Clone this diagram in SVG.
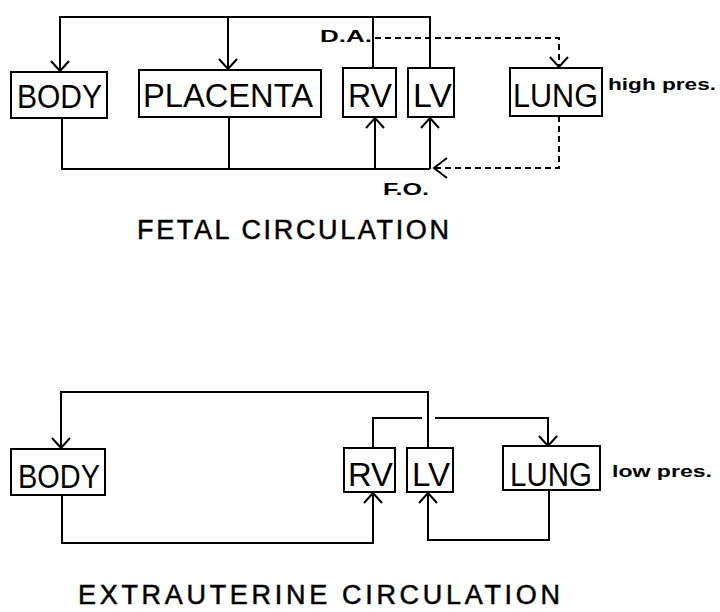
<svg xmlns="http://www.w3.org/2000/svg" width="720" height="612" viewBox="0 0 720 612">
<style>
.box{fill:#fff;stroke:#000;stroke-width:2}
.lbl{font-family:"Liberation Sans",Arial,sans-serif;font-size:34px;fill:#000}
.note{font-family:"Liberation Sans",Arial,sans-serif;font-weight:bold;font-size:17px;fill:#000}
.title{font-family:"Liberation Sans",Arial,sans-serif;font-size:27px;fill:#000;stroke:#000;stroke-width:0.5}
.ln{fill:none;stroke:#000;stroke-width:2}
.dash{fill:none;stroke:#000;stroke-width:2;stroke-dasharray:6 4}
</style>
<defs>
<marker id="ah" viewBox="-12 -11 14 22" refX="0" refY="0" markerWidth="14" markerHeight="22" markerUnits="userSpaceOnUse" orient="auto">
<path d="M-10,-9 L0,0 L-10,9" fill="none" stroke="#000" stroke-width="2"/>
</marker>
<marker id="ahL" viewBox="-15 -12 17 24" refX="0" refY="0" markerWidth="17" markerHeight="24" markerUnits="userSpaceOnUse" orient="auto">
<path d="M-13,-10 L0,0 L-13,10" fill="none" stroke="#000" stroke-width="2"/>
</marker>
</defs>

<g id="connectors">
<path class="ln" d="M430,68 V17 H60 V71" marker-end="url(#ah)"/>
<path class="ln" d="M228,17 V69" marker-end="url(#ah)"/>
<path class="ln" d="M373,68 V17"/>
<path class="ln" d="M62,118 V169 H430"/>
<path class="ln" d="M229,117 V169"/>
<path class="ln" d="M375,169 V118" marker-end="url(#ah)"/>
<path class="ln" d="M430,169 V118" marker-end="url(#ah)"/>
<path class="dash" d="M375,38 H559 V67" marker-end="url(#ah)"/>
<path class="dash" d="M559,116 V168 H434" marker-end="url(#ahL)"/>
<path class="ln" d="M428,448 V392 H61 V448" marker-end="url(#ah)"/>
<path class="ln" d="M373,448 V418 H422"/>
<path class="ln" d="M435,418 H548 V446" marker-end="url(#ah)"/>
<path class="ln" d="M62,495 V543 H373 V493" marker-end="url(#ah)"/>
<path class="ln" d="M549,490 V540 H428 V493" marker-end="url(#ah)"/>
</g>

<g id="fetal-body"><rect class="box" x="11" y="72" width="96" height="46"/><text class="lbl" x="17" y="108" textLength="85" lengthAdjust="spacingAndGlyphs">BODY</text></g>
<g id="fetal-placenta"><rect class="box" x="139" y="70" width="182" height="47"/><text class="lbl" x="143" y="107" textLength="170" lengthAdjust="spacingAndGlyphs">PLACENTA</text></g>
<g id="fetal-rv"><rect class="box" x="343" y="68" width="53" height="49"/><text class="lbl" x="348" y="107" textLength="44" lengthAdjust="spacingAndGlyphs">RV</text></g>
<g id="fetal-lv"><rect class="box" x="408" y="68" width="46" height="49"/><text class="lbl" x="413" y="107" textLength="39" lengthAdjust="spacingAndGlyphs">LV</text></g>
<g id="fetal-lung"><rect class="box" x="510" y="68" width="92" height="48"/><text class="lbl" x="513" y="107" textLength="85" lengthAdjust="spacingAndGlyphs">LUNG</text></g>
<g id="fetal-labels">
<text class="note" x="608" y="90" textLength="108" lengthAdjust="spacingAndGlyphs">high pres.</text>
<text class="note" x="320" y="42" textLength="52" lengthAdjust="spacingAndGlyphs">D.A.</text>
<text class="note" x="383" y="195" textLength="46" lengthAdjust="spacingAndGlyphs">F.O.</text>
<text class="title" x="137" y="239" textLength="312" lengthAdjust="spacing">FETAL CIRCULATION</text>
</g>

<g id="ext-body"><rect class="box" x="11" y="449" width="94" height="46"/><text class="lbl" x="18" y="488" textLength="82" lengthAdjust="spacingAndGlyphs">BODY</text></g>
<g id="ext-rv"><rect class="box" x="344" y="448" width="51" height="44"/><text class="lbl" x="348" y="486" textLength="45" lengthAdjust="spacingAndGlyphs">RV</text></g>
<g id="ext-lv"><rect class="box" x="407" y="448" width="46" height="44"/><text class="lbl" x="412" y="486" textLength="38" lengthAdjust="spacingAndGlyphs">LV</text></g>
<g id="ext-lung"><rect class="box" x="503" y="446" width="97" height="44"/><text class="lbl" x="510" y="486" textLength="82" lengthAdjust="spacingAndGlyphs">LUNG</text></g>
<g id="ext-labels">
<text class="note" x="612" y="477" textLength="100" lengthAdjust="spacingAndGlyphs">low pres.</text>
<text class="title" x="78" y="604" font-size="26" textLength="482" lengthAdjust="spacing">EXTRAUTERINE CIRCULATION</text>
</g>
</svg>
